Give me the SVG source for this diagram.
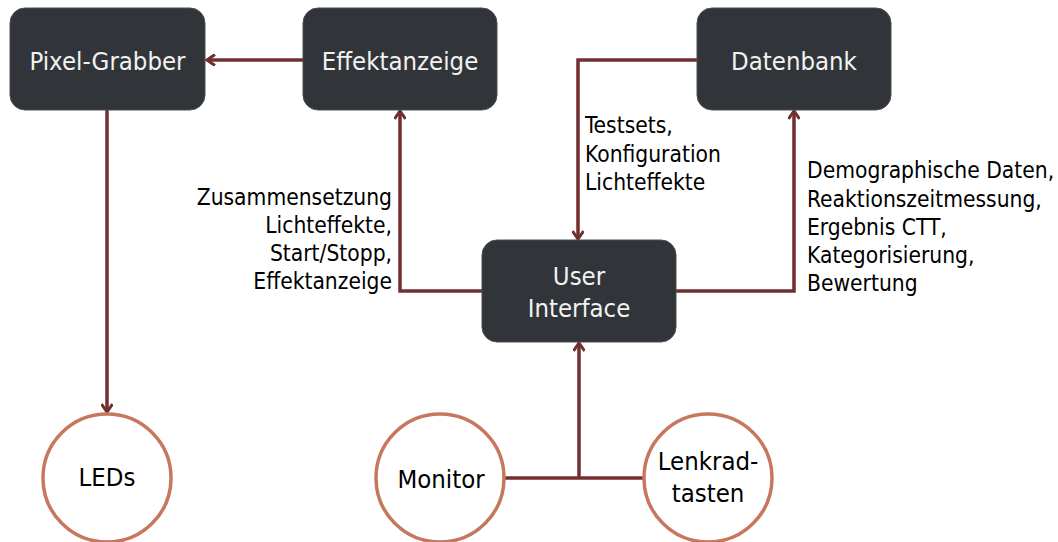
<svg xmlns="http://www.w3.org/2000/svg" width="1058" height="542" viewBox="0 0 1058 542">
  <style>
    .box { fill: #313539; stroke: #4a4e52; stroke-width: 1; }
    .circ { fill: #ffffff; stroke: #c8775f; stroke-width: 3.5; }
    .ntext { font-family: "DejaVu Sans Condensed", "DejaVu Sans", sans-serif; font-size: 25.5px; fill: #f2f2f2; text-anchor: middle; }
    .ctext { font-family: "DejaVu Sans Condensed", "DejaVu Sans", sans-serif; font-size: 25.5px; fill: #000000; text-anchor: middle; }
    .lbl { font-family: "DejaVu Sans Condensed", "DejaVu Sans", sans-serif; font-size: 22.6px; fill: #000000; }
    .edge { fill: none; stroke: #722f2f; stroke-width: 3.5; }
  </style>
  <defs>
    <marker id="arrow" viewBox="0 0 12 12" refX="10" refY="6" markerWidth="12" markerHeight="12" markerUnits="userSpaceOnUse" orient="auto">
      <path d="M2,0.5 L10,6 L2,11.5" fill="none" stroke="#722f2f" stroke-width="3"/>
    </marker>
  </defs>
  <rect width="1058" height="542" fill="#ffffff"/>

  <g id="connectors">
    <path class="edge" d="M303,60 H207" marker-end="url(#arrow)"/>
    <path class="edge" d="M107,110 V412" marker-end="url(#arrow)"/>
    <path class="edge" d="M482,291 H400 V111" marker-end="url(#arrow)"/>
    <path class="edge" d="M697,60 H578 V239" marker-end="url(#arrow)"/>
    <path class="edge" d="M676,291 H794 V111" marker-end="url(#arrow)"/>
    <path class="edge" d="M505,478 H643"/>
    <path class="edge" d="M579,478 V343" marker-end="url(#arrow)"/>
  </g>

  <g id="labels">
    <text class="lbl" x="585" y="133">Testsets,</text>
    <text class="lbl" x="585" y="161.5">Konfiguration</text>
    <text class="lbl" x="585" y="190">Lichteffekte</text>
    <text class="lbl" x="392" y="205" text-anchor="end">Zusammensetzung</text>
    <text class="lbl" x="392" y="233" text-anchor="end">Lichteffekte,</text>
    <text class="lbl" x="392" y="261" text-anchor="end">Start/Stopp,</text>
    <text class="lbl" x="392" y="289" text-anchor="end">Effektanzeige</text>
    <text class="lbl" x="807" y="178">Demographische Daten,</text>
    <text class="lbl" x="807" y="206.5">Reaktionszeitmessung,</text>
    <text class="lbl" x="807" y="235">Ergebnis CTT,</text>
    <text class="lbl" x="807" y="263">Kategorisierung,</text>
    <text class="lbl" x="807" y="291">Bewertung</text>
  </g>

  <g id="pixel-grabber">
    <rect class="box" x="10" y="8" width="195" height="102" rx="15"/>
    <text class="ntext" x="107.5" y="70">Pixel-Grabber</text>
  </g>
  <g id="effektanzeige">
    <rect class="box" x="303" y="8" width="194" height="102" rx="15"/>
    <text class="ntext" x="400" y="70">Effektanzeige</text>
  </g>
  <g id="datenbank">
    <rect class="box" x="697" y="8" width="194" height="102" rx="15"/>
    <text class="ntext" x="794" y="70">Datenbank</text>
  </g>
  <g id="user-interface">
    <rect class="box" x="482" y="240" width="194" height="102" rx="15"/>
    <text class="ntext" x="579" y="285">User</text>
    <text class="ntext" x="579" y="317">Interface</text>
  </g>
  <g id="leds">
    <circle class="circ" cx="107" cy="478" r="64"/>
    <text class="ctext" x="107" y="486">LEDs</text>
  </g>
  <g id="monitor">
    <circle class="circ" cx="440" cy="478" r="64"/>
    <text class="ctext" x="441" y="488">Monitor</text>
  </g>
  <g id="lenkradtasten">
    <circle class="circ" cx="708" cy="478" r="64"/>
    <text class="ctext" x="708" y="470">Lenkrad-</text>
    <text class="ctext" x="708" y="502">tasten</text>
  </g>
</svg>
